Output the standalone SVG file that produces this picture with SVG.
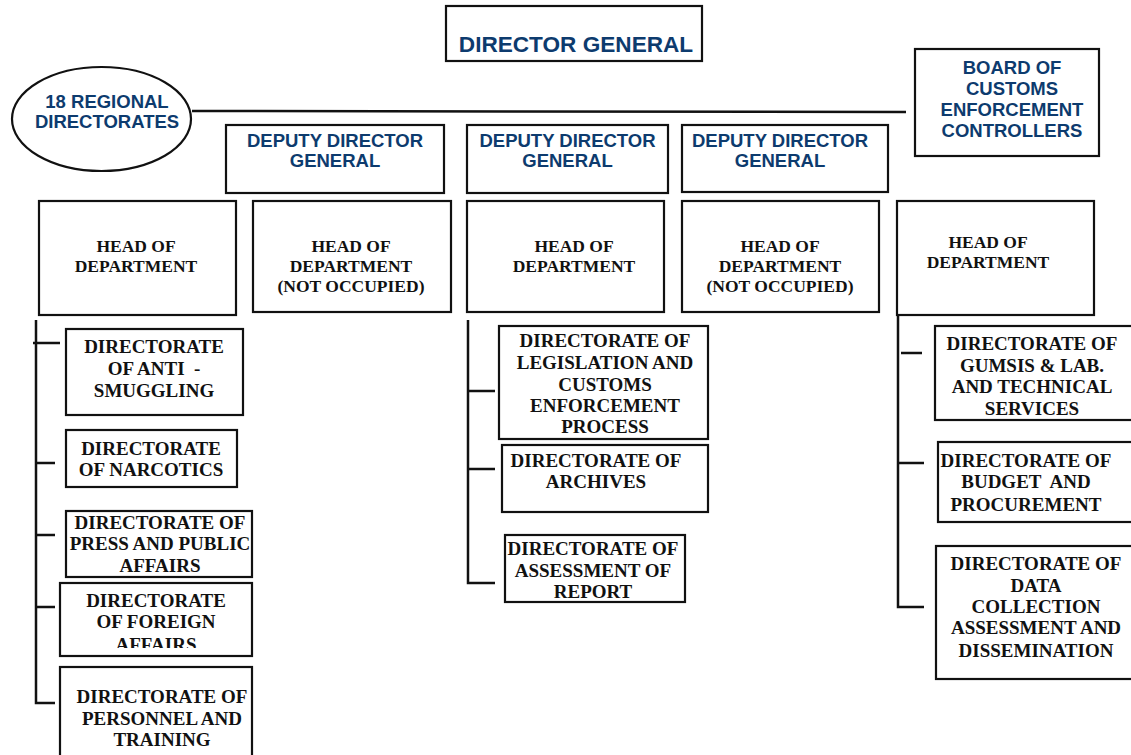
<svg xmlns="http://www.w3.org/2000/svg" width="1131" height="755" viewBox="0 0 1131 755">
<style>
.box{fill:#fff;stroke:#111;stroke-width:2.2}
.ln{fill:none;stroke:#111;stroke-width:2.5}
.bl{font-family:"Liberation Sans",Arial,sans-serif;font-weight:bold;font-size:18.5px;fill:#0d3b6e;text-anchor:middle}
.tm{font-family:"Liberation Serif","Times New Roman",serif;font-weight:bold;font-size:19px;fill:#111;text-anchor:middle}
.hd{font-size:17.5px}
</style>
<defs>
<clipPath id="clipD"><rect x="60" y="583" width="192" height="65"/></clipPath>
</defs>
<rect width="1131" height="755" fill="#fff"/>
<g id="connectors">
<path class="ln" d="M192 111 L906 112"/>
<path class="ln" d="M36 320 V703 H55 M33 343 H60 M36 463 H55 M36 535 H55 M36 607 H55"/>
<path class="ln" d="M468 320 V583 H495 M468 391 H495 M468 469 H495"/>
<path class="ln" d="M898 315 V607 H924 M901 353 H922 M898 463 H924"/>
</g>
<g id="dg"><rect class="box" x="446" y="6" width="256" height="55"/><text class="bl" x="576" y="52" style="font-size:22.6px">DIRECTOR GENERAL</text></g>
<g id="regional"><ellipse class="box" cx="101.5" cy="119" rx="89.5" ry="52"/><text class="bl" x="107" y="108">18 REGIONAL</text><text class="bl" x="107" y="128">DIRECTORATES</text></g>
<g id="board"><rect class="box" x="915" y="49" width="184" height="107"/><text class="bl" x="1012" y="74">BOARD OF</text><text class="bl" x="1012" y="95">CUSTOMS</text><text class="bl" x="1012" y="116">ENFORCEMENT</text><text class="bl" x="1012" y="137">CONTROLLERS</text></g>
<g id="ddg1"><rect class="box" x="226" y="125" width="218" height="68"/><text class="bl" x="335" y="147">DEPUTY DIRECTOR</text><text class="bl" x="335" y="167">GENERAL</text></g>
<g id="ddg2"><rect class="box" x="467" y="125" width="201" height="68"/><text class="bl" x="567.5" y="147">DEPUTY DIRECTOR</text><text class="bl" x="567.5" y="167">GENERAL</text></g>
<g id="ddg3"><rect class="box" x="682" y="125" width="206" height="67"/><text class="bl" x="780" y="147">DEPUTY DIRECTOR</text><text class="bl" x="780" y="167">GENERAL</text></g>
<g id="hod1"><rect class="box" x="39" y="201" width="197" height="114"/><text class="tm hd" x="136" y="252">HEAD OF</text><text class="tm hd" x="136" y="272">DEPARTMENT</text></g>
<g id="hod2"><rect class="box" x="253" y="201" width="198" height="111"/><text class="tm hd" x="351" y="252">HEAD OF</text><text class="tm hd" x="351" y="272">DEPARTMENT</text><text class="tm hd" x="351" y="292">(NOT OCCUPIED)</text></g>
<g id="hod3"><rect class="box" x="467" y="201" width="197" height="111"/><text class="tm hd" x="574" y="252">HEAD OF</text><text class="tm hd" x="574" y="272">DEPARTMENT</text></g>
<g id="hod4"><rect class="box" x="682" y="201" width="197" height="111"/><text class="tm hd" x="780" y="252">HEAD OF</text><text class="tm hd" x="780" y="272">DEPARTMENT</text><text class="tm hd" x="780" y="292">(NOT OCCUPIED)</text></g>
<g id="hod5"><rect class="box" x="897" y="201" width="197" height="114"/><text class="tm hd" x="988" y="248">HEAD OF</text><text class="tm hd" x="988" y="268">DEPARTMENT</text></g>
<g id="antismuggling"><rect class="box" x="66" y="329" width="177" height="86"/><text class="tm" x="154" y="353">DIRECTORATE</text><text class="tm" x="154" y="375" xml:space="preserve">OF ANTI  -</text><text class="tm" x="154" y="397">SMUGGLING</text></g>
<g id="narcotics"><rect class="box" x="66" y="430" width="171" height="57"/><text class="tm" x="151" y="455">DIRECTORATE</text><text class="tm" x="151" y="476">OF NARCOTICS</text></g>
<g id="press"><rect class="box" x="66" y="511" width="186" height="66"/><text class="tm" x="160" y="529">DIRECTORATE OF</text><text class="tm" x="160" y="550">PRESS AND PUBLIC</text><text class="tm" x="160" y="572">AFFAIRS</text></g>
<g id="foreign"><rect class="box" x="60" y="583" width="192" height="73"/><text class="tm" x="156" y="607">DIRECTORATE</text><text class="tm" x="156" y="628">OF FOREIGN</text><text class="tm" x="156" y="651" clip-path="url(#clipD)">AFFAIRS</text></g>
<g id="personnel"><rect class="box" x="60" y="667" width="192" height="100"/><text class="tm" x="162" y="703">DIRECTORATE OF</text><text class="tm" x="162" y="725">PERSONNEL AND</text><text class="tm" x="162" y="746">TRAINING</text></g>
<g id="legislation"><rect class="box" x="499" y="326" width="209" height="113"/><text class="tm" x="605" y="347">DIRECTORATE OF</text><text class="tm" x="605" y="369">LEGISLATION AND</text><text class="tm" x="605" y="391">CUSTOMS</text><text class="tm" x="605" y="412">ENFORCEMENT</text><text class="tm" x="605" y="433">PROCESS</text></g>
<g id="archives"><rect class="box" x="502" y="445" width="206" height="67"/><text class="tm" x="596" y="467">DIRECTORATE OF</text><text class="tm" x="596" y="488">ARCHIVES</text></g>
<g id="assessment"><rect class="box" x="505" y="535" width="180" height="67"/><text class="tm" x="593" y="555">DIRECTORATE OF</text><text class="tm" x="593" y="577">ASSESSMENT OF</text><text class="tm" x="593" y="598">REPORT</text></g>
<g id="gumsis"><rect class="box" x="935" y="326" width="210" height="94"/><text class="tm" x="1032" y="350">DIRECTORATE OF</text><text class="tm" x="1032" y="372">GUMSIS &amp; LAB.</text><text class="tm" x="1032" y="393">AND TECHNICAL</text><text class="tm" x="1032" y="415">SERVICES</text></g>
<g id="budget"><rect class="box" x="938" y="442" width="210" height="80"/><text class="tm" x="1026" y="467">DIRECTORATE OF</text><text class="tm" x="1026" y="488" xml:space="preserve">BUDGET  AND</text><text class="tm" x="1026" y="511">PROCUREMENT</text></g>
<g id="datacollection"><rect class="box" x="936" y="546" width="210" height="133"/><text class="tm" x="1036" y="570">DIRECTORATE OF</text><text class="tm" x="1036" y="592">DATA</text><text class="tm" x="1036" y="613">COLLECTION</text><text class="tm" x="1036" y="634">ASSESSMENT AND</text><text class="tm" x="1036" y="657">DISSEMINATION</text></g>
</svg>
